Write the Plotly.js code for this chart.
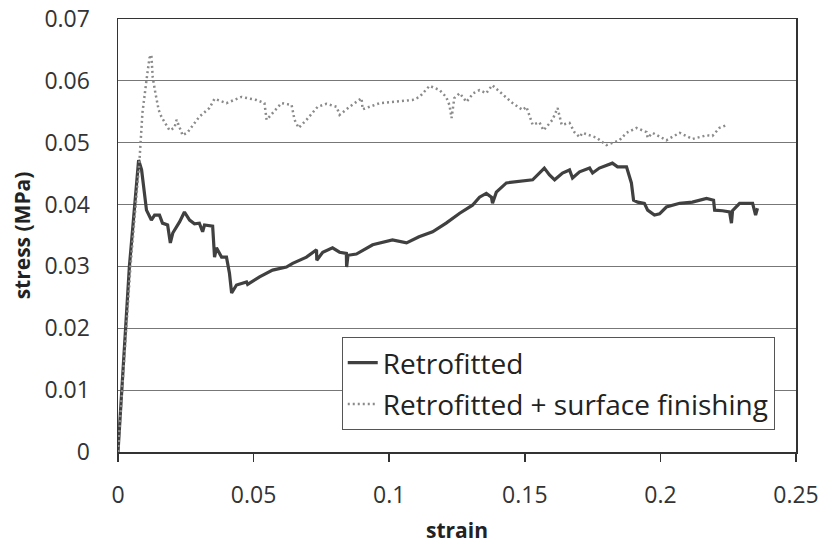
<!DOCTYPE html>
<html>
<head>
<meta charset="utf-8">
<script src="https://cdn.plot.ly/plotly-3.0.1.min.js"></script>
<style>html,body{margin:0;padding:0;background:#fff;}#chart{width:823px;height:544px;}</style>
</head>
<body>
<div id="chart"></div>
<script>
// Retrofitted (solid)
const strainRetro = [0, 0.0042, 0.0076, 0.0087, 0.0105, 0.0123, 0.0135, 0.0153, 0.0164, 0.0183, 0.0193, 0.0202, 0.0227, 0.0245, 0.0264, 0.0282, 0.0300, 0.0312, 0.0319, 0.0349, 0.0356, 0.0363, 0.0382, 0.0400, 0.0411, 0.0419, 0.0437, 0.0474, 0.0478, 0.0522, 0.0570, 0.0621, 0.0644, 0.0695, 0.0732, 0.0733, 0.0755, 0.0791, 0.0817, 0.0842, 0.0843, 0.0848, 0.0879, 0.0939, 0.1012, 0.1064, 0.1110, 0.1160, 0.1210, 0.1260, 0.1307, 0.1333, 0.1358, 0.1377, 0.1381, 0.1395, 0.1432, 0.1480, 0.1529, 0.1572, 0.1591, 0.1610, 0.1639, 0.1665, 0.1676, 0.1702, 0.1739, 0.1750, 0.1775, 0.1823, 0.1842, 0.1875, 0.1886, 0.1893, 0.1901, 0.1916, 0.1941, 0.1953, 0.1978, 0.1997, 0.2022, 0.2071, 0.2118, 0.2170, 0.2196, 0.2200, 0.2229, 0.2255, 0.2262, 0.2266, 0.2292, 0.2340, 0.2351, 0.2358];
const stressRetro = [0, 0.0300, 0.0472, 0.0456, 0.0391, 0.0375, 0.0383, 0.0383, 0.0370, 0.0367, 0.0338, 0.0354, 0.0372, 0.0388, 0.0375, 0.0369, 0.0370, 0.0356, 0.0367, 0.0365, 0.0315, 0.0330, 0.0315, 0.0315, 0.0289, 0.0257, 0.0270, 0.0275, 0.0271, 0.0283, 0.0294, 0.0299, 0.0305, 0.0315, 0.0327, 0.0310, 0.0323, 0.0330, 0.0323, 0.0321, 0.0299, 0.0318, 0.0320, 0.0335, 0.0343, 0.0338, 0.0348, 0.0356, 0.0370, 0.0386, 0.0399, 0.0412, 0.0418, 0.0412, 0.0402, 0.0420, 0.0435, 0.0437, 0.0440, 0.0459, 0.0448, 0.0440, 0.0451, 0.0456, 0.0443, 0.0453, 0.0459, 0.0451, 0.0459, 0.0467, 0.0461, 0.0461, 0.0445, 0.0435, 0.0407, 0.0404, 0.0402, 0.0391, 0.0383, 0.0385, 0.0396, 0.0402, 0.0404, 0.0410, 0.0407, 0.0391, 0.0390, 0.0388, 0.0370, 0.0390, 0.0402, 0.0402, 0.0383, 0.0394];

// Retrofitted + surface finishing (dotted)
const strainSF = [0, 0.0046, 0.0079, 0.0090, 0.0105, 0.0116, 0.0123, 0.0128, 0.0138, 0.0150, 0.0160, 0.0178, 0.0190, 0.0208, 0.0216, 0.0234, 0.0238, 0.0257, 0.0300, 0.0337, 0.0356, 0.0400, 0.0455, 0.0511, 0.0540, 0.0548, 0.0570, 0.0603, 0.0640, 0.0651, 0.0666, 0.0695, 0.0736, 0.0769, 0.0806, 0.0817, 0.0854, 0.0879, 0.0898, 0.0902, 0.0965, 0.1038, 0.1086, 0.1112, 0.1149, 0.1186, 0.1210, 0.1222, 0.1230, 0.1240, 0.1260, 0.1285, 0.1310, 0.1333, 0.1358, 0.1380, 0.1407, 0.1455, 0.1492, 0.1506, 0.1529, 0.1554, 0.1569, 0.1602, 0.1621, 0.1636, 0.1665, 0.1683, 0.1702, 0.1713, 0.1765, 0.1801, 0.1849, 0.1875, 0.1912, 0.1949, 0.1953, 0.1971, 0.2022, 0.2071, 0.2118, 0.2170, 0.2192, 0.2218, 0.2247];
const stressSF = [0, 0.0300, 0.0470, 0.0548, 0.0601, 0.0637, 0.0642, 0.0606, 0.0580, 0.0553, 0.0542, 0.0529, 0.0520, 0.0524, 0.0537, 0.0517, 0.0512, 0.0517, 0.0542, 0.0556, 0.0571, 0.0564, 0.0574, 0.0569, 0.0564, 0.0537, 0.0548, 0.0564, 0.0561, 0.0537, 0.0524, 0.0537, 0.0558, 0.0563, 0.0558, 0.0545, 0.0558, 0.0566, 0.0572, 0.0554, 0.0564, 0.0567, 0.0569, 0.0574, 0.0592, 0.0585, 0.0574, 0.0561, 0.0540, 0.0572, 0.0580, 0.0566, 0.0580, 0.0585, 0.0580, 0.0593, 0.0582, 0.0564, 0.0553, 0.0558, 0.0529, 0.0533, 0.0520, 0.0537, 0.0556, 0.0529, 0.0532, 0.0517, 0.0509, 0.0516, 0.0508, 0.0496, 0.0504, 0.0516, 0.0524, 0.0517, 0.0508, 0.0516, 0.0504, 0.0516, 0.0506, 0.0512, 0.0511, 0.0524, 0.0529];

const xTickVals = [0, 0.05, 0.1, 0.15, 0.2, 0.25];
const xTickText = ["0", "0.05", "0.1", "0.15", "0.2", "0.25"];
const yTickVals = [0, 0.01, 0.02, 0.03, 0.04, 0.05, 0.06, 0.07];
const yTickText = ["0", "0.01", "0.02", "0.03", "0.04", "0.05", "0.06", "0.07"];

const traces = [
  {x: strainRetro, y: stressRetro, type: 'scatter', mode: 'lines', name: 'Retrofitted',
   legendgroup: 'a', line: {color: '#404040', width: 3.2}},
  {x: strainSF, y: stressSF, type: 'scatter', mode: 'lines', name: 'Retrofitted + surface finishing',
   legendgroup: 'b', line: {color: '#8a8a8a', width: 2.5, dash: '2px,3px'}}
];

const fontFam = 'Open Sans, Noto Sans, sans-serif';
const layout = {
  width: 823, height: 544,
  margin: {l: 118, r: 27, t: 19, b: 92, pad: 0},
  paper_bgcolor: '#fff', plot_bgcolor: '#fff',
  showlegend: true,
  legend: {x: 0.330, y: 0.2656, xanchor: 'left', yanchor: 'top',
    bgcolor: '#fff', bordercolor: '#555', borderwidth: 1,
    font: {family: fontFam, size: 28, color: '#222'}, tracegroupgap: 2},
  xaxis: {range: [0, 0.25], tickvals: xTickVals, ticktext: xTickText,
    showgrid: false, zeroline: false, showline: true, linecolor: '#333', linewidth: 1.5,
    mirror: true, ticks: 'outside', ticklen: 8, tickcolor: '#333', tickwidth: 1.5,
    ticklabelstandoff: 14,
    tickfont: {family: fontFam, size: 23, color: '#333'},
    title: {text: 'strain', font: {family: fontFam, size: 21, weight: 'bold', color: '#222'}, standoff: 16}},
  yaxis: {range: [0, 0.07], tickvals: yTickVals, ticktext: yTickText,
    showgrid: true, gridcolor: '#777', gridwidth: 1, zeroline: false,
    showline: true, linecolor: '#333', linewidth: 1.5, mirror: true, ticks: '',
    ticklabelstandoff: 22,
    tickfont: {family: fontFam, size: 23, color: '#333'},
    title: {text: 'stress (MPa)', font: {family: fontFam, size: 21, weight: 'bold', color: '#222'}, standoff: 8}}
};

Plotly.newPlot('chart', traces, layout, {displayModeBar: false, staticPlot: true});
</script>
</body>
</html>
